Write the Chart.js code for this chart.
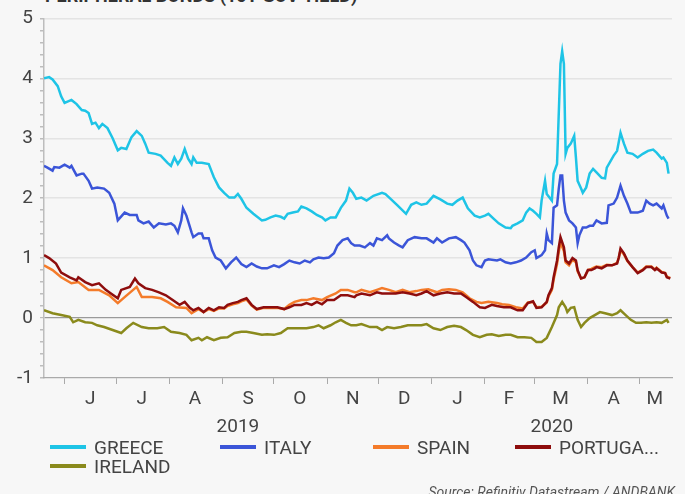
<!DOCTYPE html>
<html>
<head>
<meta charset="utf-8">
<script src="https://cdn.jsdelivr.net/npm/chart.js@4.4.0/dist/chart.umd.min.js"></script>
<style>
  html, body { margin: 0; padding: 0; background: #f7f7f7; }
  body { width: 685px; height: 494px; overflow: hidden; position: relative; font-family: Roboto, "Liberation Sans", sans-serif; color: #444; }
  #title { position: absolute; left: 45px; top: -15px; font-size: 18px; font-weight: bold; color: #333; white-space: nowrap; }
  #chartBox { position: absolute; left: 0; top: 0; width: 685px; height: 440px; }
  .legendItem { position: absolute; font-size: 19px; line-height: 20px; white-space: nowrap; color: #444; }
  .legendItem .swatch { display: inline-block; width: 36px; height: 4px; vertical-align: middle; margin-right: 8px; position: relative; top: -2px; }
  #source { position: absolute; right: 10px; top: 484px; font-size: 14px; font-style: italic; color: #555; white-space: nowrap; }
</style>
</head>
<body>
<div id="title">PERIPHERAL BONDS (10Y GOV YIELD)</div>
<div id="chartBox"><canvas id="bondChart" width="685" height="440"></canvas></div>
<div id="legend"></div>
<div id="source">Source: Refinitiv Datastream / ANDBANK</div>
<script>
// x = days since 2019-05-20, y = 10y yield (%)
const greece = [
  [0,4.00],[3,4.02],[5,3.98],[8,3.87],[10,3.70],[12,3.59],[16,3.64],[19,3.57],[22,3.47],[24,3.46],[26,3.42],[28,3.24],[30,3.26],[32,3.17],[34,3.24],[37,3.17],[40,3.00],[43,2.80],[45,2.84],[48,2.82],[51,3.02],[54,3.12],[57,3.04],[59,2.91],[61,2.76],[65,2.74],[68,2.71],[72,2.59],[74,2.54],[76,2.68],[78,2.57],[80,2.66],[82,2.82],[84,2.66],[86,2.57],[87,2.68],[89,2.59],[92,2.59],[96,2.57],[99,2.35],[102,2.18],[105,2.09],[108,2.01],[111,2.01],[113,2.07],[115,1.99],[118,1.84],[122,1.74],[127,1.63],[129,1.64],[132,1.68],[135,1.71],[138,1.69],[140,1.66],[142,1.74],[145,1.76],[148,1.78],[150,1.86],[153,1.83],[156,1.78],[159,1.72],[162,1.68],[164,1.63],[167,1.68],[170,1.68],[173,1.84],[176,1.96],[178,2.16],[180,2.09],[182,1.99],[185,2.01],[188,1.96],[192,2.04],[197,2.09],[199,2.07],[202,1.99],[206,1.88],[211,1.74],[214,1.89],[217,1.93],[220,1.89],[223,1.91],[227,2.04],[231,1.98],[235,1.91],[238,1.89],[241,1.96],[244,2.01],[247,1.83],[251,1.71],[254,1.68],[257,1.71],[259,1.74],[262,1.66],[265,1.58],[269,1.51],[272,1.50],[273,1.54],[276,1.58],[279,1.63],[281,1.76],[283,1.83],[285,1.79],[287,1.74],[289,1.68],[290,1.96],[292,2.29],[293,2.07],[296,1.96],[297,2.41],[299,2.57],[300,3.41],[301,4.24],[302,4.45],[303,4.24],[304,2.74],[305,2.84],[307,2.91],[309,3.04],[310,2.68],[311,2.29],[313,2.16],[314,2.09],[316,2.18],[318,2.41],[320,2.49],[322,2.43],[325,2.34],[327,2.33],[328,2.51],[332,2.71],[334,2.79],[336,3.09],[338,2.91],[340,2.76],[343,2.74],[346,2.68],[349,2.74],[352,2.79],[355,2.81],[357,2.76],[360,2.66],[361,2.68],[363,2.59],[364,2.41]
];
const italy = [
  [0,2.54],[2,2.51],[5,2.46],[6,2.52],[9,2.51],[12,2.56],[15,2.51],[16,2.54],[19,2.38],[22,2.41],[23,2.41],[26,2.29],[28,2.16],[31,2.18],[35,2.16],[38,2.09],[41,1.91],[43,1.63],[47,1.76],[50,1.72],[54,1.72],[55,1.63],[58,1.58],[61,1.61],[64,1.51],[67,1.58],[71,1.56],[74,1.58],[76,1.54],[78,1.43],[80,1.63],[81,1.83],[83,1.71],[86,1.43],[87,1.35],[90,1.41],[92,1.41],[93,1.33],[96,1.33],[98,1.13],[100,1.01],[103,0.96],[106,0.83],[109,0.93],[112,1.01],[115,0.90],[118,0.85],[121,0.91],[124,0.86],[127,0.83],[130,0.83],[134,0.88],[137,0.85],[140,0.90],[143,0.96],[146,0.93],[149,0.91],[152,0.96],[155,0.93],[157,0.98],[160,1.01],[163,1.00],[166,1.01],[169,1.08],[171,1.21],[174,1.30],[177,1.33],[179,1.25],[181,1.21],[184,1.21],[187,1.18],[190,1.25],[192,1.21],[194,1.33],[197,1.30],[200,1.38],[201,1.33],[204,1.26],[207,1.21],[209,1.18],[212,1.30],[216,1.35],[220,1.33],[223,1.33],[227,1.26],[229,1.33],[232,1.26],[236,1.33],[240,1.35],[243,1.30],[245,1.26],[248,1.13],[250,0.96],[252,0.88],[255,0.85],[257,0.96],[259,0.98],[264,0.96],[266,0.98],[269,0.93],[272,0.91],[275,0.93],[278,0.96],[281,1.01],[284,1.10],[286,1.13],[287,1.00],[290,1.05],[292,1.13],[293,1.41],[294,1.30],[296,1.25],[297,1.84],[299,1.88],[300,2.16],[301,2.38],[302,2.38],[303,1.96],[304,1.76],[306,1.63],[308,1.58],[310,1.51],[311,1.25],[312,1.38],[314,1.51],[316,1.51],[318,1.54],[320,1.54],[322,1.63],[325,1.58],[328,1.59],[329,1.88],[332,1.91],[334,2.01],[336,2.21],[338,2.04],[340,1.91],[342,1.76],[346,1.76],[349,1.79],[351,1.96],[353,1.91],[355,1.88],[357,1.91],[360,1.83],[361,1.88],[363,1.71],[364,1.66]
];
const spain = [
  [0,0.88],[5,0.80],[10,0.68],[16,0.58],[20,0.60],[26,0.47],[32,0.47],[38,0.38],[43,0.25],[47,0.35],[54,0.52],[57,0.35],[63,0.35],[68,0.33],[72,0.27],[77,0.18],[83,0.17],[86,0.08],[90,0.15],[93,0.10],[96,0.15],[99,0.12],[102,0.16],[105,0.16],[107,0.20],[110,0.23],[113,0.25],[115,0.28],[118,0.31],[121,0.21],[124,0.14],[128,0.17],[132,0.17],[136,0.17],[140,0.15],[143,0.22],[146,0.27],[150,0.30],[153,0.30],[157,0.33],[162,0.30],[165,0.35],[170,0.41],[173,0.47],[177,0.47],[181,0.43],[182,0.43],[185,0.47],[190,0.43],[194,0.47],[197,0.50],[201,0.47],[205,0.43],[209,0.47],[213,0.43],[217,0.45],[220,0.47],[224,0.48],[229,0.43],[232,0.47],[236,0.48],[240,0.47],[244,0.43],[248,0.33],[252,0.27],[255,0.25],[259,0.27],[264,0.25],[267,0.23],[271,0.22],[275,0.18],[279,0.16],[282,0.26],[285,0.27],[287,0.18],[290,0.19],[293,0.26],[294,0.36],[296,0.47],[297,0.64],[299,0.90],[300,1.10],[301,1.26],[303,1.12],[304,0.93],[306,0.88],[308,0.97],[310,0.93],[311,0.78],[313,0.66],[315,0.68],[317,0.80],[319,0.82],[321,0.85],[322,0.86],[325,0.85],[328,0.89],[331,0.88],[334,0.92],[335,1.01],[336,1.13],[338,1.06],[340,0.95],[343,0.85],[346,0.76],[349,0.81],[351,0.86],[354,0.86],[356,0.81],[357,0.84],[360,0.77],[362,0.75],[363,0.69],[365,0.67]
];
const portugal = [
  [0,1.05],[3,1.00],[7,0.91],[10,0.76],[15,0.68],[19,0.63],[20,0.68],[24,0.60],[28,0.55],[32,0.58],[36,0.47],[39,0.41],[43,0.33],[45,0.47],[50,0.52],[53,0.66],[55,0.58],[59,0.50],[63,0.47],[67,0.43],[71,0.38],[75,0.30],[79,0.22],[82,0.27],[85,0.17],[87,0.13],[90,0.17],[93,0.10],[96,0.17],[99,0.13],[102,0.18],[105,0.17],[107,0.22],[110,0.25],[113,0.27],[115,0.30],[118,0.33],[121,0.22],[124,0.15],[128,0.18],[132,0.18],[136,0.18],[140,0.15],[143,0.18],[146,0.22],[150,0.22],[153,0.25],[156,0.22],[159,0.27],[162,0.23],[165,0.30],[169,0.30],[173,0.38],[177,0.38],[181,0.35],[182,0.38],[185,0.41],[190,0.38],[194,0.43],[197,0.41],[201,0.41],[205,0.41],[209,0.43],[213,0.41],[217,0.38],[220,0.41],[223,0.45],[227,0.38],[231,0.41],[235,0.43],[239,0.41],[243,0.41],[246,0.35],[250,0.27],[254,0.18],[257,0.17],[261,0.22],[264,0.20],[268,0.18],[272,0.18],[276,0.13],[279,0.13],[282,0.25],[285,0.28],[287,0.17],[290,0.18],[293,0.27],[294,0.38],[296,0.50],[297,0.68],[299,0.96],[300,1.18],[301,1.35],[303,1.18],[304,0.96],[306,0.91],[308,1.00],[310,0.96],[311,0.80],[313,0.66],[315,0.68],[317,0.80],[319,0.80],[321,0.83],[322,0.85],[325,0.83],[328,0.88],[331,0.88],[334,0.91],[335,1.01],[336,1.16],[338,1.08],[340,0.96],[343,0.85],[346,0.75],[349,0.80],[351,0.85],[354,0.85],[356,0.80],[357,0.83],[360,0.76],[362,0.75],[363,0.68],[365,0.66]
];
const ireland = [
  [0,0.13],[5,0.08],[10,0.05],[15,0.02],[17,-0.07],[20,-0.03],[24,-0.07],[28,-0.08],[31,-0.12],[35,-0.15],[40,-0.20],[45,-0.25],[48,-0.17],[52,-0.08],[57,-0.15],[61,-0.17],[66,-0.17],[70,-0.15],[74,-0.23],[79,-0.25],[83,-0.28],[86,-0.37],[90,-0.33],[92,-0.37],[95,-0.32],[99,-0.37],[103,-0.33],[107,-0.32],[111,-0.25],[115,-0.23],[118,-0.23],[122,-0.25],[127,-0.28],[130,-0.27],[134,-0.28],[138,-0.25],[142,-0.17],[146,-0.17],[150,-0.17],[153,-0.17],[157,-0.15],[160,-0.12],[163,-0.17],[167,-0.12],[170,-0.07],[173,-0.03],[176,-0.08],[179,-0.12],[182,-0.12],[185,-0.10],[190,-0.15],[194,-0.15],[197,-0.20],[200,-0.15],[204,-0.17],[208,-0.15],[212,-0.12],[217,-0.12],[220,-0.12],[223,-0.10],[227,-0.17],[231,-0.20],[235,-0.15],[239,-0.13],[243,-0.15],[246,-0.20],[250,-0.28],[254,-0.32],[258,-0.28],[261,-0.27],[265,-0.30],[269,-0.28],[272,-0.28],[276,-0.32],[280,-0.32],[284,-0.33],[287,-0.40],[290,-0.40],[293,-0.33],[296,-0.15],[299,0.05],[300,0.18],[302,0.27],[304,0.18],[305,0.10],[307,0.17],[309,0.18],[311,-0.03],[313,-0.15],[315,-0.08],[318,0.00],[321,0.05],[324,0.10],[327,0.08],[331,0.05],[334,0.08],[336,0.13],[339,0.05],[342,-0.03],[345,-0.08],[348,-0.08],[351,-0.07],[354,-0.08],[357,-0.07],[360,-0.08],[363,-0.03],[364,-0.08]
];

const seriesNames = ["GREECE", "ITALY", "SPAIN", "PORTUGA...", "IRELAND"];
const seriesColors = ["#1ec4e6", "#3b55d8", "#f47b2a", "#8e0d0d", "#8a8a1c"];

// month boundaries and labels (days since 2019-05-20)
const monthStarts = [12, 42, 73, 104, 134, 165, 195, 226, 257, 286, 317, 347];
const monthMids = [27, 57, 88, 119, 149, 180, 210, 241, 271, 301, 332, 356];
const monthLabels = ["J", "J", "A", "S", "O", "N", "D", "J", "F", "M", "A", "M"];
const yearMids = [113, 296];
const yearLabels = ["2019", "2020"];

Chart.defaults.font.family = "Roboto, 'Liberation Sans', sans-serif";
Chart.defaults.color = "#444";

function toPoints(arr) {
    return arr.map(p => ({ x: p[0], y: p[1] }));
}

const allSeries = [greece, italy, spain, portugal, ireland];
// portugal drawn above spain
const drawOrder = [0, 1, 3, 2, 4];
const datasets = allSeries.map((s, i) => ({
    label: seriesNames[i],
    data: toPoints(s),
    borderColor: seriesColors[i],
    backgroundColor: seriesColors[i],
    borderWidth: 2.5,
    pointRadius: 0,
    tension: 0,
    fill: false,
    order: drawOrder[i]
}));

const xRange = { min: 0, max: 366 };

new Chart(document.getElementById("bondChart"), {
    type: "line",
    data: { datasets: datasets },
    options: {
        responsive: false,
        animation: false,
        layout: { padding: { top: 17, right: 13, left: 0, bottom: 0 } },
        plugins: { legend: { display: false }, tooltip: { enabled: false } },
        scales: {
            y: {
                min: -1, max: 5,
                ticks: {
                    stepSize: 0.2,
                    autoSkip: false,
                    padding: 7,
                    font: { size: 19 },
                    color: "#444",
                    callback: v => Math.abs(v - Math.round(v)) < 1e-6 ? Math.round(v) : ""
                },
                grid: {
                    color: ctx => {
                        const v = ctx.tick.value;
                        if (Math.abs(v) < 1e-6) return "#9a9a9a";
                        if (Math.abs(v + 1) < 1e-6) return "rgba(0,0,0,0)";
                        return Math.abs(v - Math.round(v)) < 1e-6 ? "#e4e4e4" : "rgba(0,0,0,0)";
                    },
                    tickColor: "#bdbdbd",
                    tickLength: 4,
                    lineWidth: ctx => Math.abs(ctx.tick.value) < 1e-6 ? 1.2 : 1.5
                },
                border: { color: "#bdbdbd", width: 1.5 },
                afterFit: s => { s.width = 44; }
            },
            x: {
                type: "linear", position: "bottom", weight: 0,
                min: xRange.min, max: xRange.max,
                afterBuildTicks: s => { s.ticks = monthStarts.map(v => ({ value: v })); },
                ticks: { display: false },
                grid: { drawOnChartArea: false, drawTicks: true, tickLength: 6, tickColor: "#aaa" },
                border: { color: "#aaa", width: 1.2 },
                afterFit: s => { s.height = 8; }
            },
            xMonth: {
                type: "linear", position: "bottom", weight: 1,
                min: xRange.min, max: xRange.max,
                afterBuildTicks: s => { s.ticks = monthMids.map(v => ({ value: v })); },
                ticks: {
                    autoSkip: false, maxRotation: 0, padding: 2,
                    font: { size: 19 }, color: "#444",
                    callback: (v, i) => monthLabels[i]
                },
                grid: { display: false, drawTicks: false },
                border: { display: false },
                afterFit: s => { s.height = 30; }
            },
            xYear: {
                type: "linear", position: "bottom", weight: 2,
                min: xRange.min, max: xRange.max,
                afterBuildTicks: s => { s.ticks = yearMids.map(v => ({ value: v })); },
                ticks: {
                    autoSkip: false, maxRotation: 0, padding: 0,
                    font: { size: 19 }, color: "#444",
                    callback: (v, i) => yearLabels[i]
                },
                grid: { display: false, drawTicks: false },
                border: { display: false },
                afterFit: s => { s.height = 24; }
            }
        }
    }
});

// legend in html, 4 columns
const legendSlots = [[50, 438], [220, 438], [373, 438], [515, 438], [50, 457]];
const legend = document.getElementById("legend");
seriesNames.forEach((name, i) => {
    const item = document.createElement("div");
    item.className = "legendItem";
    item.style.left = legendSlots[i][0] + "px";
    item.style.top = legendSlots[i][1] + "px";
    item.innerHTML = '<span class="swatch" style="background:' + seriesColors[i] + '"></span>' + name;
    legend.appendChild(item);
});
</script>
</body>
</html>
